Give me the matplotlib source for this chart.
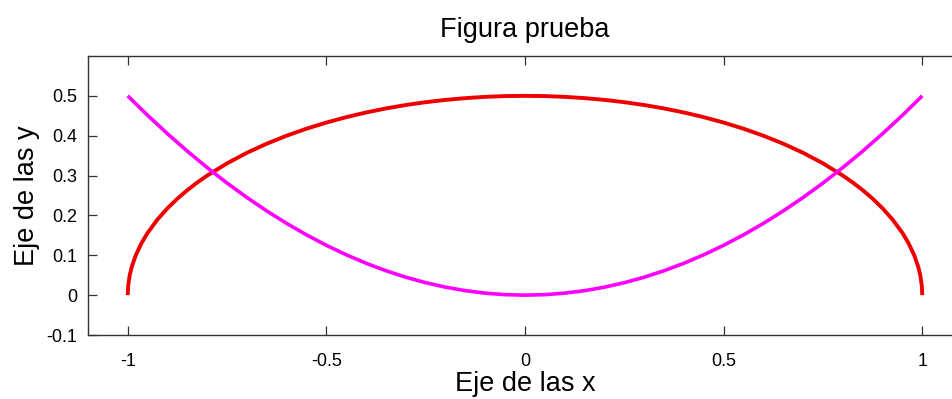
import matplotlib
matplotlib.use("Agg")
import matplotlib.pyplot as plt

plt.rcParams['font.family'] = ['Liberation Sans', 'DejaVu Sans']

# semicircle-like curve (red)
x_red = [-1.0, -0.999, -0.995, -0.99, -0.98, -0.965, -0.95, -0.925, -0.9, -0.875,
         -0.85, -0.825, -0.8, -0.75, -0.7, -0.65, -0.6, -0.55, -0.5, -0.45, -0.4,
         -0.35, -0.3, -0.25, -0.2, -0.15, -0.1, -0.05, 0.0,
         0.05, 0.1, 0.15, 0.2, 0.25, 0.3, 0.35, 0.4, 0.45, 0.5, 0.55, 0.6,
         0.65, 0.7, 0.75, 0.8, 0.825, 0.85, 0.875, 0.9, 0.925, 0.95, 0.965,
         0.98, 0.99, 0.995, 0.999, 1.0]
y_red = [0.0, 0.0224, 0.0499, 0.0705, 0.0995, 0.1311, 0.1561, 0.1900, 0.2179, 0.2421,
         0.2634, 0.2826, 0.3, 0.3307, 0.3571, 0.3800, 0.4, 0.4176, 0.4330, 0.4465, 0.4583,
         0.4684, 0.4770, 0.4841, 0.4899, 0.4943, 0.4975, 0.4994, 0.5,
         0.4994, 0.4975, 0.4943, 0.4899, 0.4841, 0.4770, 0.4684, 0.4583, 0.4465, 0.4330, 0.4176, 0.4,
         0.3800, 0.3571, 0.3307, 0.3, 0.2826, 0.2634, 0.2421, 0.2179, 0.1900, 0.1561, 0.1311,
         0.0995, 0.0705, 0.0499, 0.0224, 0.0]

# parabola-like curve (magenta)
x_mag = [-1.0, -0.95, -0.9, -0.85, -0.8, -0.75, -0.7, -0.65, -0.6, -0.55, -0.5,
         -0.45, -0.4, -0.35, -0.3, -0.25, -0.2, -0.15, -0.1, -0.05, 0.0,
         0.05, 0.1, 0.15, 0.2, 0.25, 0.3, 0.35, 0.4, 0.45, 0.5,
         0.55, 0.6, 0.65, 0.7, 0.75, 0.8, 0.85, 0.9, 0.95, 1.0]
y_mag = [0.5, 0.45125, 0.405, 0.36125, 0.32, 0.28125, 0.245, 0.21125, 0.18, 0.15125, 0.125,
         0.10125, 0.08, 0.06125, 0.045, 0.03125, 0.02, 0.01125, 0.005, 0.00125, 0.0,
         0.00125, 0.005, 0.01125, 0.02, 0.03125, 0.045, 0.06125, 0.08, 0.10125, 0.125,
         0.15125, 0.18, 0.21125, 0.245, 0.28125, 0.32, 0.36125, 0.405, 0.45125, 0.5]

xticks = [-1, -0.5, 0, 0.5, 1]
xtick_labels = ['-1', '-0.5', '0', '0.5', '1']
yticks = [-0.1, 0, 0.1, 0.2, 0.3, 0.4, 0.5]
ytick_labels = ['-0.1', '0', '0.1', '0.2', '0.3', '0.4', '0.5']

W, H = 953, 399
fig = plt.figure(figsize=(W / 100, H / 100), dpi=100)
# axes box runs past the right edge of the picture, as in the original
ax = fig.add_axes([88 / W, (H - 335) / H, (962 - 88) / W, (335 - 56) / H])

ax.plot(x_red, y_red, color='#ee0000', lw=2.8, solid_joinstyle='round', solid_capstyle='butt')
ax.plot(x_mag, y_mag, color='#ff00ff', lw=2.6, solid_joinstyle='round', solid_capstyle='butt')

ax.set_xlim(-1.1, 1.1)
ax.set_ylim(-0.1, 0.6)
ax.set_xticks(xticks)
ax.set_xticklabels(xtick_labels)
ax.set_yticks(yticks)
ax.set_yticklabels(ytick_labels)
ax.tick_params(direction='in', top=True, right=True, length=6.5, width=0.9,
               labelsize=13, colors='#333333', labelcolor='black')
ax.tick_params(axis='x', pad=13)
ax.tick_params(axis='y', pad=8)
for s in ax.spines.values():
    s.set_color('#333333')
    s.set_linewidth(1.0)

ax.set_title('Figura prueba', fontsize=19.5, pad=14)
ax.set_xlabel('Eje de las x', fontsize=19.5, labelpad=1)
ax.set_ylabel('Eje de las y', fontsize=19.5, labelpad=4)

fig.savefig('out.png', dpi=100)
